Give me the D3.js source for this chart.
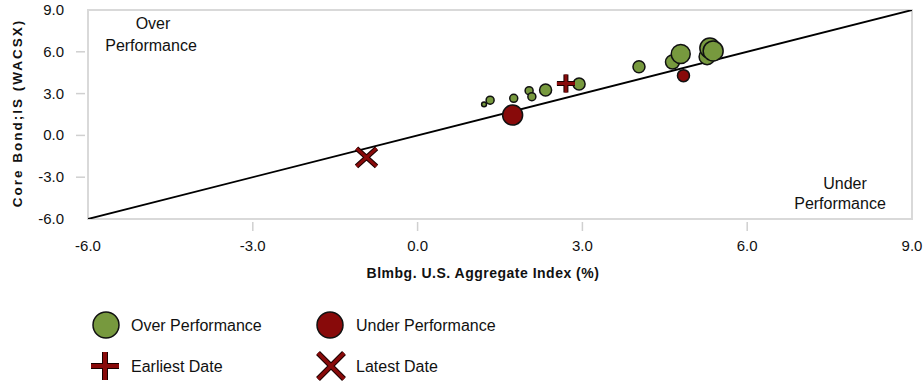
<!DOCTYPE html>
<html>
<head>
<meta charset="utf-8">
<script src="https://cdn.jsdelivr.net/npm/d3@7"></script>
<style>
  html, body { margin: 0; padding: 0; background: #fff; }
  svg { display: block; font-family: "Liberation Sans", Arial, sans-serif; }
</style>
</head>
<body>
<svg id="chart" width="923" height="385"></svg>
<script>
// ---- data ----
const xValues = [1.21, 1.32, 1.75, 2.03, 2.08, 2.33, 1.73, 2.94, 4.03, 4.64, 4.79, 4.84, 5.27, 5.32, 5.38];
const yValues = [2.23, 2.53, 2.66, 3.21, 2.78, 3.26, 1.46, 3.69, 4.93, 5.27, 5.84, 4.29, 5.65, 6.27, 6.06];
const weights = [6, 16, 16, 16, 16, 36, 100, 36, 36, 49, 90, 36, 64, 100, 100];
const groups  = ["over","over","over","over","over","over","under","over","over","over","over","under","over","over","over"];
const earliest = [2.70, 3.72];
const latest = [-0.93, -1.57];
const tickValues = [-6, -3, 0, 3, 6, 9];
const legendLabels = ["Over Performance", "Under Performance", "Earliest Date", "Latest Date"];
const xTitle = "Blmbg. U.S. Aggregate Index (%)";
const yTitle = "Core Bond;IS (WACSX)";

const green = "#77993e", red = "#880a0a";
const svg = d3.select("#chart");
const L = 88, R = 912, T = 10, B = 219;
const x = d3.scaleLinear().domain([-6, 9]).range([L, R]);
const y = d3.scaleLinear().domain([-6, 9]).range([B, T]);
const r = d3.scaleSqrt().domain([0, 100]).range([0, 10]);
const fmt = d => d.toFixed(1);

// frame
svg.append("rect").attr("x", L).attr("y", T).attr("width", R - L).attr("height", B - T)
  .attr("fill", "none").attr("stroke", "#d9d9d9").attr("stroke-width", 2);

// x ticks
const inner = tickValues.filter(v => v > -6 && v < 9);
svg.selectAll(".xt").data(inner).enter().append("line")
  .attr("x1", d => x(d)).attr("x2", d => x(d)).attr("y1", B + 3).attr("y2", B + 12)
  .attr("stroke", "#d0d0d0").attr("stroke-width", 1.5);
svg.selectAll(".xl").data(tickValues).enter().append("text")
  .attr("x", d => x(d)).attr("y", 251).attr("text-anchor", "middle")
  .attr("font-size", 15).attr("fill", "#111").text(fmt);
// y ticks
svg.selectAll(".yt").data(inner).enter().append("line")
  .attr("x1", L - 12).attr("x2", L - 3).attr("y1", d => y(d)).attr("y2", d => y(d))
  .attr("stroke", "#d0d0d0").attr("stroke-width", 1.5);
svg.selectAll(".yl").data(tickValues).enter().append("text")
  .attr("x", 64).attr("y", d => y(d) + 5).attr("text-anchor", "end")
  .attr("font-size", 15).attr("fill", "#111").text(fmt);

// titles
svg.append("text").attr("x", 483).attr("y", 278).attr("text-anchor", "middle")
  .attr("font-size", 14).attr("font-weight", "bold").attr("letter-spacing", 0.5)
  .attr("fill", "#111").text(xTitle);
svg.append("text").attr("transform", "translate(22," + 113 + ") rotate(-90)")
  .attr("text-anchor", "middle").attr("font-size", 13.5).attr("font-weight", "bold")
  .attr("letter-spacing", 2).attr("fill", "#111").text(yTitle);

// annotations
const ann = svg.append("g").attr("font-size", 16).attr("fill", "#111").attr("text-anchor", "middle");
ann.append("text").attr("x", 153).attr("y", 29).text("Over");
ann.append("text").attr("x", 151).attr("y", 51).text("Performance");
ann.append("text").attr("x", 845).attr("y", 189).text("Under");
ann.append("text").attr("x", 840).attr("y", 209).text("Performance");

// diagonal
svg.append("clipPath").attr("id", "clip").append("rect")
  .attr("x", L).attr("y", T).attr("width", R - L).attr("height", B - T);
svg.append("line").attr("clip-path", "url(#clip)")
  .attr("x1", x(-6)).attr("y1", y(-6)).attr("x2", x(9)).attr("y2", y(9))
  .attr("stroke", "#000").attr("stroke-width", 1.8);

// bubbles
const pts = xValues.map((v, i) => ({ x: v, y: yValues[i], w: weights[i], g: groups[i] }));
svg.append("g").selectAll("circle").data(pts).enter().append("circle")
  .attr("cx", d => x(d.x)).attr("cy", d => y(d.y)).attr("r", d => r(d.w))
  .attr("fill", d => d.g === "over" ? green : red)
  .attr("stroke", "#111").attr("stroke-width", 1.5);

function plus(g, cx, cy, s, w) {
  const p = `M${cx - s},${cy}H${cx + s}M${cx},${cy - s}V${cy + s}`;
  g.append("path").attr("d", p).attr("stroke", "#1a0000").attr("stroke-width", w + 2).attr("fill", "none");
  g.append("path").attr("d", p).attr("stroke", red).attr("stroke-width", w).attr("fill", "none");
}
function cross(g, cx, cy, sx, sy, w) {
  const p = `M${cx - sx},${cy - sy}L${cx + sx},${cy + sy}M${cx + sx},${cy - sy}L${cx - sx},${cy + sy}`;
  g.append("path").attr("d", p).attr("stroke", "#1a0000").attr("stroke-width", w + 2).attr("fill", "none");
  g.append("path").attr("d", p).attr("stroke", red).attr("stroke-width", w).attr("fill", "none");
}
const mk = svg.append("g");
plus(mk, x(earliest[0]), y(earliest[1]), 9, 3);
cross(mk, x(latest[0]), y(latest[1]), 10, 9, 3);

// legend
const lg = svg.append("g").attr("font-size", 16).attr("fill", "#111");
lg.append("circle").attr("cx", 106).attr("cy", 325).attr("r", 13).attr("fill", green).attr("stroke", "#111").attr("stroke-width", 1.5);
lg.append("circle").attr("cx", 330).attr("cy", 325).attr("r", 13).attr("fill", red).attr("stroke", "#111").attr("stroke-width", 1.5);
plus(lg, 105, 366, 14, 4);
cross(lg, 331, 366, 13, 13, 3.5);
const lpos = [[131, 331], [356, 331], [131, 372], [356, 372]];
legendLabels.forEach((t, i) => lg.append("text").attr("x", lpos[i][0]).attr("y", lpos[i][1]).text(t));
</script>
</body>
</html>
